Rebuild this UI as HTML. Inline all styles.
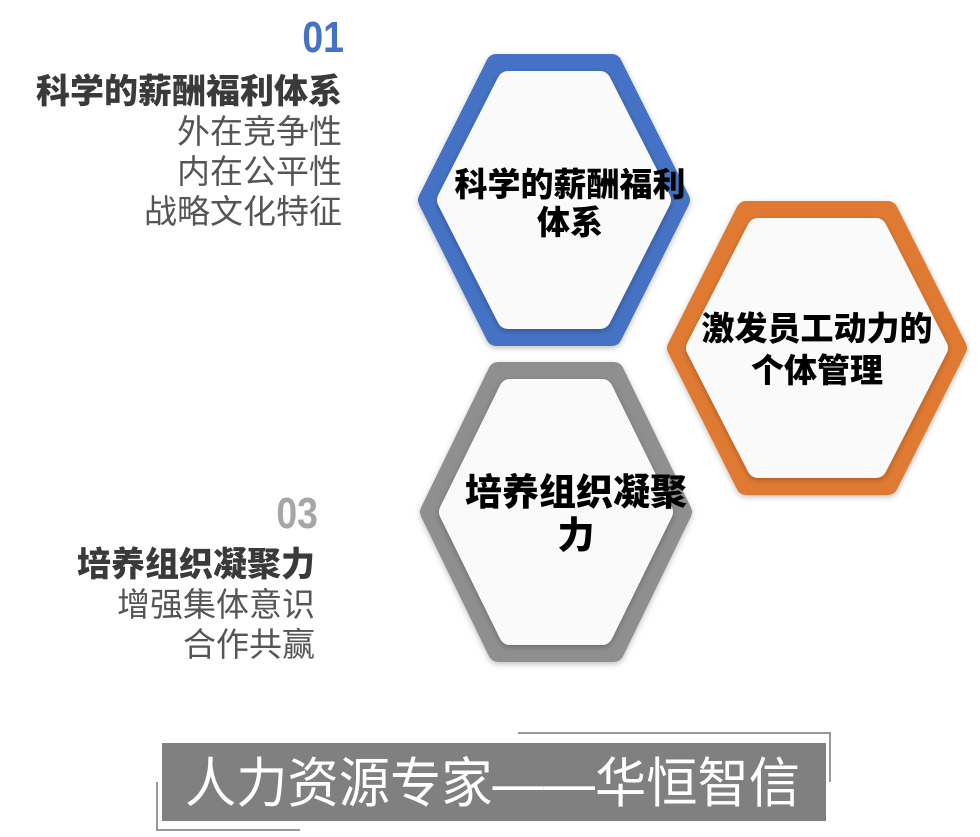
<!DOCTYPE html>
<html><head><meta charset="utf-8"><style>
body{margin:0;width:980px;height:837px;background:#fff;overflow:hidden;position:relative;font-family:"Liberation Sans","Noto Sans CJK SC",sans-serif}
.t{position:absolute;text-align:right;color:#555;font-size:33px;line-height:40px;white-space:nowrap}
.t b{color:#3a3a3a;font-weight:900;font-size:34px}
.n{position:absolute;font-weight:bold;font-size:44px;line-height:44px;font-family:"Liberation Sans Narrow","Liberation Sans",sans-serif;transform:scaleX(0.85);transform-origin:right}
</style></head><body>
<div class="n" style="right:636px;top:16px;color:#4472c4">01</div>
<div class="t" style="right:638px;top:72px"><b>科学的薪酬福利体系</b><br>外在竞争性<br>内在公平性<br>战略文化特征</div>
<div class="n" style="right:662px;top:492px;color:#a6a6a6">03</div>
<div class="t" style="right:665px;top:545px"><b>培养组织凝聚力</b><br>增强集体意识<br>合作共赢</div>
<svg width="980" height="837" style="position:absolute;left:0;top:0">
<defs><filter id="s" x="-10%" y="-10%" width="120%" height="120%"><feDropShadow dx="0" dy="2" stdDeviation="3" flood-color="#000" flood-opacity="0.25"/></filter></defs>
<g stroke-linejoin="round">
<polygon points="428,200 496,64 612,64 680,200 612,336 496,336" fill="#4472c4" stroke="#4472c4" stroke-width="20" filter="url(#s)"/>
<polygon points="448,200 508,82 600,82 660,200 600,318 508,318" fill="#fafafa" stroke="#fafafa" stroke-width="22" filter="url(#s)"/>
<polygon points="677,348 746,211 888,211 957,348 888,485 746,485" fill="#e07a30" stroke="#e07a30" stroke-width="20" filter="url(#s)"/>
<polygon points="697,348 758,229 876,229 937,348 876,467 758,467" fill="#fafafa" stroke="#fafafa" stroke-width="22" filter="url(#s)"/>
<polygon points="430,512 498,372 614,372 682,512 614,652 498,652" fill="#8f8f8f" stroke="#8f8f8f" stroke-width="20" filter="url(#s)"/>
<polygon points="450,512 510,390 602,390 662,512 602,634 510,634" fill="#fafafa" stroke="#fafafa" stroke-width="22" filter="url(#s)"/>
</g>
<g font-family="Liberation Sans,Noto Sans CJK SC,sans-serif" font-weight="900" font-size="33" text-anchor="middle" fill="#000">
<text x="570" y="196">科学的薪酬福利</text><text x="570" y="234">体系</text>
<text x="817" y="340">激发员工动力的</text><text x="817" y="382">个体管理</text>
<text x="576" y="505" font-size="37">培养组织凝聚</text><text x="576" y="548" font-size="37">力</text>
</g>
<rect x="162" y="743" width="664" height="78" fill="#808080"/>
<polyline points="518,733 830,733 830,782" fill="none" stroke="#999" stroke-width="2"/>
<polyline points="157,782 157,830 300,830" fill="none" stroke="#999" stroke-width="2"/>
<text x="185" y="802" textLength="615" lengthAdjust="spacingAndGlyphs" fill="#fff" font-size="54" font-family="Liberation Sans,Noto Sans CJK SC,sans-serif">人力资源专家——华恒智信</text>
</svg>
</body></html>
